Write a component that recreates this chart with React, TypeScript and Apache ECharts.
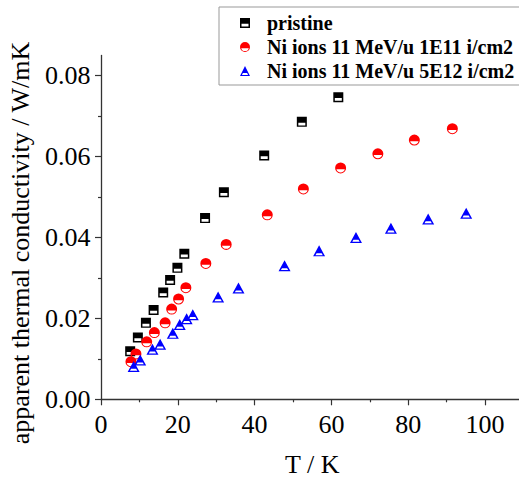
import React, { useEffect, useRef } from "react";
import * as echarts from "echarts";

const seriesNames = [
  "pristine",
  "Ni ions 11 MeV/u 1E11 i/cm2",
  "Ni ions 11 MeV/u 5E12 i/cm2",
];

const pristineT = [7.6, 9.6, 11.7, 13.7, 16.2, 18.0, 19.9, 21.7, 27.1, 32.0, 42.5, 52.3, 61.8];
const pristineK = [0.0119, 0.0153, 0.0189, 0.0221, 0.0264, 0.0295, 0.0325, 0.036, 0.0448, 0.0512, 0.0603, 0.0686, 0.0747];

const ni1T = [7.8, 9.1, 11.9, 13.9, 16.7, 18.4, 20.2, 22.1, 27.3, 32.6, 43.3, 52.7, 62.4, 72.1, 81.6, 91.5];
const ni1K = [0.0093, 0.0112, 0.0142, 0.0165, 0.0189, 0.0223, 0.0248, 0.0276, 0.0336, 0.0383, 0.0456, 0.052, 0.0572, 0.0607, 0.0641, 0.0669];

const ni5T = [8.5, 10.2, 13.4, 15.4, 18.7, 20.5, 22.3, 23.9, 30.5, 35.8, 47.8, 56.8, 66.4, 75.5, 85.2, 95.1];
const ni5K = [0.0081, 0.0097, 0.0124, 0.0136, 0.0163, 0.0185, 0.0199, 0.0209, 0.0253, 0.0275, 0.033, 0.0367, 0.04, 0.0423, 0.0446, 0.046];

const xMajorTicks = [0, 20, 40, 60, 80, 100];
const xMinorTicks = [10, 30, 50, 70, 90, 110];
const yMajorTicks = [0, 0.02, 0.04, 0.06, 0.08];
const yMinorTicks = [0.01, 0.03, 0.05, 0.07];
const xTickLabels = ["0", "20", "40", "60", "80", "100"];
const yTickLabels = ["0.00", "0.02", "0.04", "0.06", "0.08"];

const xTitle = "T / K";
const yTitle = "apparent thermal conductivity / W/mK";

const SQUARE = "path://M0 0L10 0L10 10L0 10Z M1.5 5.8L1.5 8.6L8.5 8.6L8.5 5.8Z";
const CIRCLE = "path://M0 5A5 5 0 1 1 10 5A5 5 0 1 1 0 5Z M8.8 6.2L1.2 6.2A3.95 3.95 0 0 0 8.8 6.2Z";
const TRIANGLE = "path://M5 0L10 10L0 10Z M7.1 7.1L2.9 7.1L1.95 8.9L8.05 8.9Z";

const FONT = "Liberation Serif";

const zip = (xs: number[], ys: number[]) => xs.map((x, i) => [x, ys[i]]);

export default function App() {
  const ref = useRef<HTMLDivElement>(null);
  useEffect(() => {
    const chart = echarts.init(ref.current!, null, { renderer: "svg" });
    const axisLine = { show: true, onZero: false, lineStyle: { color: "#333", width: 1.3 } };
    const tickStyle = { color: "#333", width: 1.2 };
    const tickLabelSeries = (
      data: number[][],
      labels: string[],
      position: string,
      distance: number
    ) => ({
      type: "scatter",
      name: "_ticks_" + position,
      silent: true,
      clip: false,
      symbolSize: 1,
      itemStyle: { color: "rgba(0,0,0,0)", opacity: 1 },
      z: 5,
      label: {
        show: true,
        position,
        distance,
        opacity: 1,
        fontSize: 26,
        fontFamily: FONT,
        color: "#000",
        formatter: (p: any) => labels[p.dataIndex],
      },
      data,
    });
    chart.setOption({
      animation: false,
      backgroundColor: "#fff",
      textStyle: { fontFamily: FONT, color: "#000" },
      grid: { left: 101, top: 55.5, width: 422.4, bottom: 78.7, outerBoundsMode: "none", containLabel: false },
      xAxis: [
        {
          type: "value",
          min: 0,
          max: 110,
          interval: 20,
          name: xTitle,
          nameLocation: "middle",
          nameGap: 52,
          nameTextStyle: { fontSize: 26, fontFamily: FONT, color: "#000" },
          axisLine,
          axisTick: { show: true, length: 6, customValues: xMajorTicks, lineStyle: tickStyle },
          axisLabel: { show: true, formatter: () => "" },
          splitLine: { show: false },
        },
        {
          type: "value",
          min: 0,
          max: 110,
          position: "bottom",
          axisLine: { show: false },
          axisLabel: { show: false },
          axisTick: { show: true, length: 3, customValues: xMinorTicks, lineStyle: tickStyle },
          splitLine: { show: false },
        },
      ],
      yAxis: [
        {
          type: "value",
          min: 0,
          max: 0.085,
          interval: 0.02,
          axisLine,
          axisTick: { show: true, length: 6, customValues: yMajorTicks, lineStyle: tickStyle },
          axisLabel: { show: true, formatter: () => "" },
          splitLine: { show: false },
        },
        {
          type: "value",
          min: 0,
          max: 0.085,
          position: "left",
          axisLine: { show: false },
          axisLabel: { show: false },
          axisTick: { show: true, length: 3, customValues: yMinorTicks, lineStyle: tickStyle },
          splitLine: { show: false },
        },
      ],
      legend: {
        orient: "vertical",
        left: 219,
        top: 7,
        padding: [6, 14, 4, 21],
        itemGap: 4,
        itemWidth: 10,
        itemHeight: 10,
        borderColor: "#999",
        borderWidth: 1,
        textStyle: {
          fontSize: 20,
          fontWeight: "bold",
          fontFamily: FONT,
          color: "#000",
          padding: [0, 0, 0, 12],
        },
        data: seriesNames,
      },
      graphic: [
        {
          type: "text",
          x: 20,
          y: 243,
          rotation: Math.PI / 2,
          style: {
            text: yTitle,
            fontSize: 26,
            fontFamily: FONT,
            fill: "#000",
            align: "center",
            verticalAlign: "middle",
            textAlign: "center",
            textVerticalAlign: "middle",
          },
        },
      ],
      series: [
        tickLabelSeries(xMajorTicks.map((v) => [v, 0]), xTickLabels, "bottom", 12),
        tickLabelSeries(yMajorTicks.map((v) => [0, v]), yTickLabels, "left", 10),
        {
          name: seriesNames[0],
          type: "scatter",
          symbol: SQUARE,
          symbolSize: [10, 10],
          itemStyle: { color: "#000", opacity: 1 },
          data: zip(pristineT, pristineK),
        },
        {
          name: seriesNames[1],
          type: "scatter",
          symbol: CIRCLE,
          symbolSize: [11, 11],
          itemStyle: { color: "#ff0000", opacity: 1 },
          data: zip(ni1T, ni1K),
        },
        {
          name: seriesNames[2],
          type: "scatter",
          symbol: TRIANGLE,
          symbolSize: [12, 11],
          itemStyle: { color: "#0000ff", opacity: 1 },
          data: zip(ni5T, ni5K),
        },
      ],
    });
    return () => chart.dispose();
  }, []);
  return (
    <div
      ref={ref}
      style={{ position: "absolute", left: 0, top: 0, width: 519, height: 478, background: "#fff" }}
    />
  );
}
